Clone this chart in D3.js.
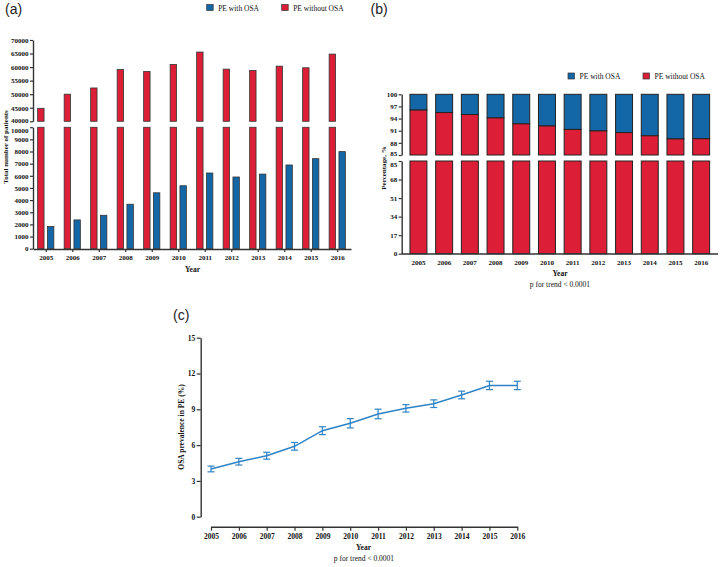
<!DOCTYPE html>
<html><head><meta charset="utf-8">
<script src="https://cdn.jsdelivr.net/npm/d3@7"></script>
<style>body{margin:0;background:#fff;} svg{display:block;}</style>
</head><body>
<svg id="chart" width="722" height="567"></svg>
<script>
// ---------- data ----------
const years = ["2005","2006","2007","2008","2009","2010","2011","2012","2013","2014","2015","2016"];
const withOSA = [1820,2370,2750,3660,4600,5180,6230,5900,6140,6890,7410,7990];
const withoutOSA = [44800,50000,52300,59100,58400,61000,65550,59250,58750,60350,59750,64800];
const prevalence = [4.0,4.61,5.11,5.9,7.21,7.83,8.61,9.08,9.47,10.2,11.0,11.0];
const prevalenceErr = [0.24,0.28,0.29,0.32,0.33,0.39,0.40,0.31,0.32,0.32,0.35,0.35];
const seriesNames = ["PE with OSA","PE without OSA"];
const ticksATop = [40000,45000,50000,55000,60000,65000,70000];
const ticksABottom = [0,1000,2000,3000,4000,5000,6000,7000,8000,9000,10000];
const ticksBTop = [85,88,91,94,97,100];
const ticksBBottom = [0,17,34,51,68,85];
const ticksC = [0,3,6,9,12,15];

const RED = "#dc1f36", BLUE = "#1467a6", LINE = "#2e83c6", AX = "#333";
const SERIF = "'Liberation Serif','Times New Roman',serif";
const SANS = "'Liberation Sans',Arial,sans-serif";
const svg = d3.select("#chart");
const fmt = d3.format("d");

function styleAxis(g, fs) {
  g.selectAll(".domain").attr("stroke", AX).attr("stroke-width", 1.4);
  g.selectAll(".tick line").attr("stroke", AX).attr("stroke-width", 1.2);
  g.selectAll(".tick text").attr("font-family", SERIF).attr("font-weight", "bold")
    .attr("font-size", fs).attr("fill", "#111");
}
// nudge the label at a break so the two labels sit just above/below the gap
function nudge(g, value, dy) {
  g.selectAll(".tick").filter(d => d === value).select("text").attr("dy", dy);
}
function legend(x, y) {
  const cols = [BLUE, RED];
  const offs = [0, 75];
  seriesNames.forEach((n, i) => {
    svg.append("rect").attr("x", x + offs[i]).attr("y", y - 6).attr("width", 6.5).attr("height", 6)
      .attr("fill", cols[i]).attr("stroke", "#333").attr("stroke-width", 0.7);
    svg.append("text").attr("x", x + offs[i] + 11.5).attr("y", y).text(n)
      .attr("font-family", SERIF).attr("font-size", 7.5).attr("fill", "#111");
  });
}
function txt(x, y, s, opts = {}) {
  const t = svg.append("text").attr("x", x).attr("y", y).text(s)
    .attr("font-family", opts.font || SERIF).attr("font-size", opts.size || 7.5)
    .attr("font-weight", opts.weight || "normal").attr("fill", opts.fill || "#111")
    .attr("text-anchor", opts.anchor || "middle");
  if (opts.rotate) t.attr("transform", `rotate(-90,${x},${y})`);
  return t;
}

// ---------- panel (a) ----------
txt(5, 14, "(a)", {font: SANS, size: 14, anchor: "start", fill: "#222"});
legend(206.7, 10.5);
const xa = d3.scaleBand().domain(years).range([33, 351]);
const yaTop = d3.scaleLinear().domain([40000, 70000]).range([121.3, 40]);
const yaBot = d3.scaleLinear().domain([0, 10000]).range([248.7, 127.2]);
const ga = svg.append("g");
years.forEach((yr, i) => {
  const c = xa(yr) + xa.bandwidth() / 2;
  ga.append("rect").attr("x", c - 8.6).attr("width", 6.4)
    .attr("y", yaTop(withoutOSA[i])).attr("height", yaTop(40000) - yaTop(withoutOSA[i]))
    .attr("fill", RED).attr("stroke", "#333").attr("stroke-width", 0.8);
  ga.append("rect").attr("x", c - 8.6).attr("width", 6.4)
    .attr("y", yaBot(10000)).attr("height", yaBot(0) - yaBot(10000))
    .attr("fill", RED).attr("stroke", "#333").attr("stroke-width", 0.8);
  ga.append("rect").attr("x", c + 1.2).attr("width", 6.4)
    .attr("y", yaBot(withOSA[i])).attr("height", yaBot(0) - yaBot(withOSA[i]))
    .attr("fill", BLUE).attr("stroke", "#333").attr("stroke-width", 0.8);
});
svg.append("rect").attr("x", 34).attr("y", 122.3).attr("width", 320).attr("height", 4).attr("fill", "#fff");
const gaT = svg.append("g").attr("transform", "translate(33,0)")
  .call(d3.axisLeft(yaTop).tickValues(ticksATop).tickFormat(fmt).tickSize(3).tickSizeOuter(0).tickPadding(1.5));
styleAxis(gaT, 7); nudge(gaT, 40000, "0.1em");
const gaB = svg.append("g").attr("transform", "translate(33,0)")
  .call(d3.axisLeft(yaBot).tickValues(ticksABottom).tickFormat(fmt).tickSize(3).tickSizeOuter(0).tickPadding(1.5));
styleAxis(gaB, 7); nudge(gaB, 10000, "0.72em");
styleAxis(svg.append("g").attr("transform", "translate(0,249)")
  .call(d3.axisBottom(xa).tickSize(3).tickSizeOuter(0).tickPadding(3)), 7);
txt(192.5, 271.5, "Year", {weight: "bold", size: 7.5});
txt(8, 147, "Total number of patients", {weight: "bold", size: 7, rotate: true});

// ---------- panel (b) ----------
txt(370.5, 14, "(b)", {font: SANS, size: 14, anchor: "start", fill: "#222"});
legend(568, 79);
const xb = d3.scaleBand().domain(years).range([405.6, 714]).paddingInner(0.34).paddingOuter(0.17);
const ybTop = d3.scaleLinear().domain([85, 100]).range([155, 94.3]);
const ybBot = d3.scaleLinear().domain([0, 85]).range([253.7, 161]);
const pctWithout = withoutOSA.map((v, i) => 100 * v / (v + withOSA[i]));
years.forEach((yr, i) => {
  const x = xb(yr), w = xb.bandwidth();
  const p = pctWithout[i];
  svg.append("rect").attr("x", x).attr("width", w)
    .attr("y", ybTop(100)).attr("height", ybTop(p) - ybTop(100))
    .attr("fill", BLUE).attr("stroke", "#222").attr("stroke-width", 1);
  svg.append("rect").attr("x", x).attr("width", w)
    .attr("y", ybTop(p)).attr("height", ybTop(85) - ybTop(p))
    .attr("fill", RED).attr("stroke", "#222").attr("stroke-width", 1);
  svg.append("rect").attr("x", x).attr("width", w)
    .attr("y", ybBot(85)).attr("height", ybBot(0) - ybBot(85))
    .attr("fill", RED).attr("stroke", "#222").attr("stroke-width", 1);
});
const gbT = svg.append("g").attr("transform", "translate(401.7,0)")
  .call(d3.axisLeft(ybTop).tickValues(ticksBTop).tickSize(3).tickSizeOuter(0).tickPadding(1.5));
styleAxis(gbT, 7); nudge(gbT, 85, "0.1em");
const gbB = svg.append("g").attr("transform", "translate(401.7,0)")
  .call(d3.axisLeft(ybBot).tickValues(ticksBBottom).tickSize(3).tickSizeOuter(0).tickPadding(1.5));
styleAxis(gbB, 7); nudge(gbB, 85, "0.72em");
const gbx = svg.append("g").attr("transform", "translate(0,254)")
  .call(d3.axisBottom(xb).tickSize(0).tickPadding(6));
gbx.select(".domain").attr("d", "M401.7,0H718");
styleAxis(gbx, 7);
txt(560, 275.5, "Year", {weight: "bold", size: 7.5});
txt(560, 287, "p for trend < 0.0001", {size: 7.5});
txt(386, 168, "Percentage, %", {weight: "bold", size: 7, rotate: true});

// ---------- panel (c) ----------
txt(173, 320, "(c)", {font: SANS, size: 14, anchor: "start", fill: "#222"});
const xc = d3.scalePoint().domain(years).range([211, 517.3]);
const yc = d3.scaleLinear().domain([0, 15]).range([516.7, 337.7]);
styleAxis(svg.append("g").attr("transform", "translate(200.7,0)")
  .call(d3.axisLeft(yc).tickValues(ticksC).tickSize(4).tickSizeOuter(0).tickPadding(1.5)), 7.5);
styleAxis(svg.append("g").attr("transform", "translate(0,526.7)")
  .call(d3.axisBottom(xc).tickSize(4).tickSizeOuter(0).tickPadding(2.5)), 7.5);
const line = d3.line().x((d, i) => xc(years[i])).y(d => yc(d));
svg.append("path").datum(prevalence).attr("d", line)
  .attr("fill", "none").attr("stroke", LINE).attr("stroke-width", 1.5);
prevalence.forEach((v, i) => {
  const x = xc(years[i]), e = prevalenceErr[i];
  const g = svg.append("g").attr("stroke", LINE).attr("stroke-width", 1.2).attr("fill", "none");
  g.append("line").attr("x1", x).attr("x2", x).attr("y1", yc(v + e)).attr("y2", yc(v - e));
  g.append("line").attr("x1", x - 3.5).attr("x2", x + 3.5).attr("y1", yc(v + e)).attr("y2", yc(v + e));
  g.append("line").attr("x1", x - 3.5).attr("x2", x + 3.5).attr("y1", yc(v - e)).attr("y2", yc(v - e));
});
txt(363.5, 550, "Year", {weight: "bold", size: 7.5});
txt(364, 561, "p for trend < 0.0001", {size: 7.5});
txt(184, 427, "OSA prevalence in PE (%)", {weight: "bold", size: 7.5, rotate: true});
</script>
</body></html>
